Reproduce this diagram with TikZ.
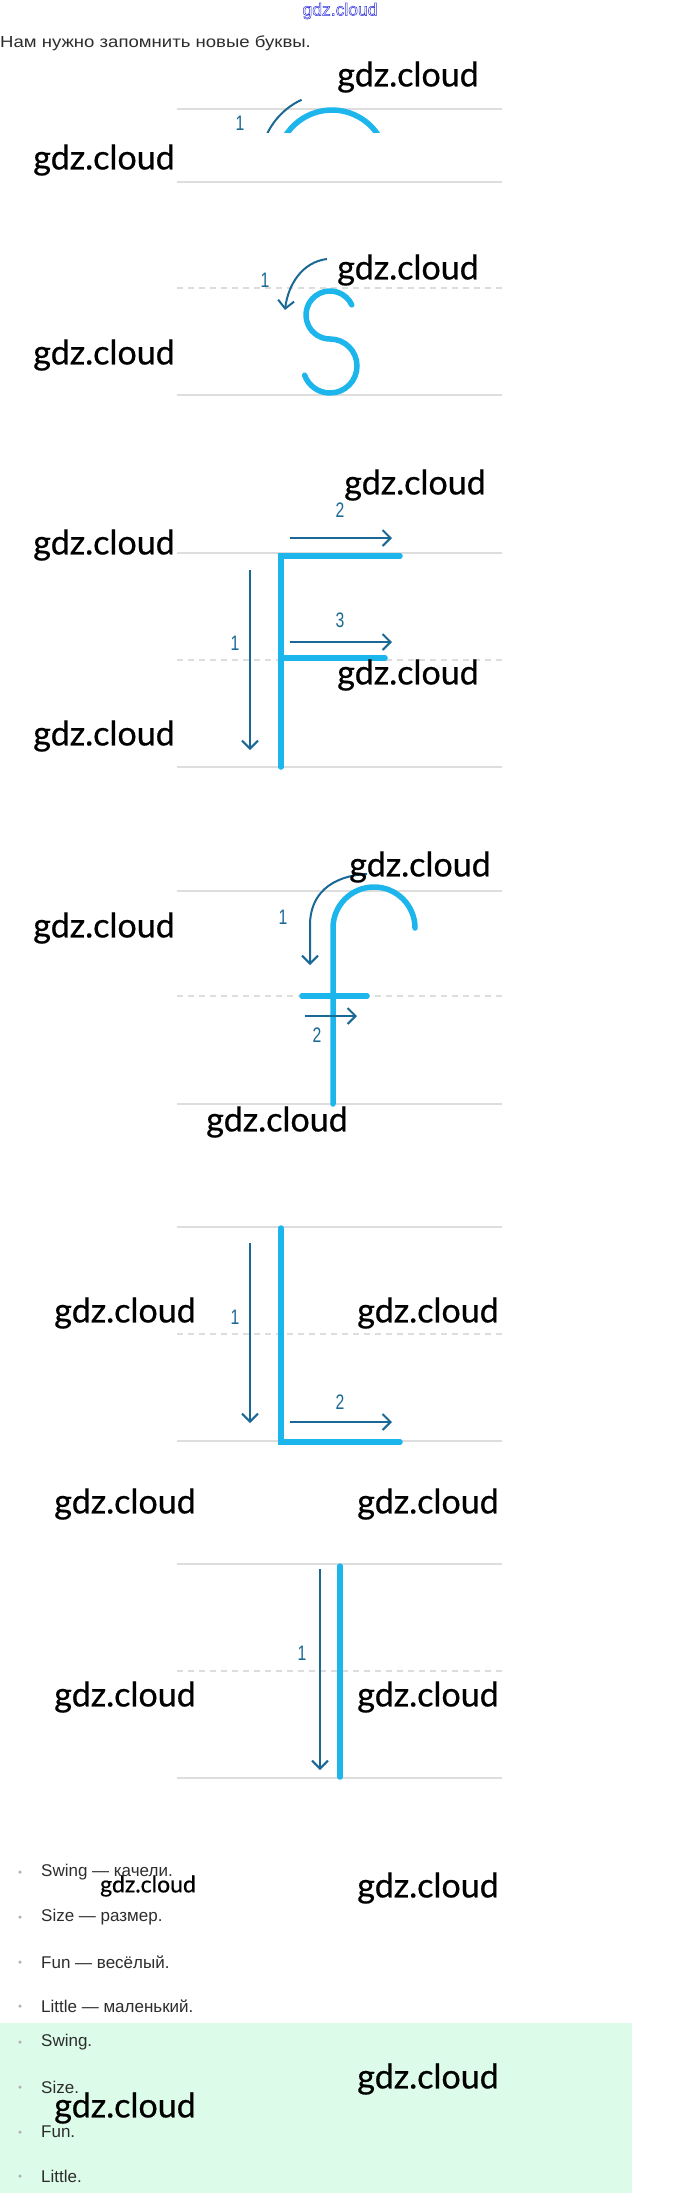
\documentclass[tikz,border=0pt]{standalone}
\usepackage{fontspec}
\usepackage{graphicx}
\usetikzlibrary{arrows.meta}
\newfontfamily\wmfont[FakeBold=0.6]{Lato}
\newfontfamily\uifont{Liberation Sans}
\definecolor{cyanL}{RGB}{28,181,236}
\definecolor{arrowB}{RGB}{26,104,150}
\definecolor{guideG}{RGB}{221,221,221}
\definecolor{mint}{RGB}{220,252,233}
\definecolor{textG}{RGB}{45,45,45}
\definecolor{wmBlue}{RGB}{50,50,220}
\begin{document}
\begin{tikzpicture}[x=1pt,y=1pt,
  guide/.style={draw=guideG,line width=1.8pt},
  guidedash/.style={guide,dash pattern=on 6pt off 5pt},
  letter/.style={draw=cyanL,line width=5.5pt,line cap=round,line join=miter},
  strokeline/.style={draw=arrowB,line width=2pt},
  strokearrow/.style={strokeline,-{Straight Barb[length=8pt,width=16pt]}},
  num/.style={inner sep=0,text=arrowB,font=\uifont\fontsize{21}{21}\selectfont},
  wm/.style={inner sep=0,text=black,font=\wmfont\fontsize{34}{34}\selectfont},
  wmsmall/.style={inner sep=0,text=black,font=\wmfont\fontsize{23}{23}\selectfont},
  item/.style={inner sep=0,anchor=west,text=textG,font=\uifont\fontsize{17}{20}\selectfont},
  bulletdot/.style={fill=gray!60,draw=none,circle,inner sep=0,minimum size=3.5pt}
]
\fill[white] (0,0) rectangle (680,-2193);
\useasboundingbox (0,0) rectangle (680,-2193);

% header
\node[inner sep=0,text=wmBlue,font=\uifont\fontsize{17.5}{18}\selectfont] (topwm) at (340,-11) {\special{pdf:literal direct 1 Tr 0.5 w}gdz.cloud\special{pdf:literal direct 0 Tr}};
\node[inner sep=0,anchor=west,text=textG,font=\uifont\fontsize{16}{18}\selectfont] (intro) at (0,-43) {\scalebox{1.16}[1]{Нам нужно запомнить новые буквы.}};

% ---------- block 1: C ----------
\draw[guide] (177,-109) -- (502,-109);
\draw[guide] (177,-182) -- (502,-182);
\begin{scope}
  \clip (150,-60) rectangle (520,-132.5);
  \draw[letter,line cap=butt] (332,-165) ++(150:55) arc[start angle=150,end angle=30,radius=55];
  \draw[strokeline] (332,-165) ++(158:72) arc[start angle=158,end angle=115,radius=72];
\end{scope}
\node[num] (c1) at (240,-123) {\scalebox{0.75}[1]{1}};

% ---------- block 2: S ----------
\draw[guidedash] (177,-288) -- (502,-288);
\draw[guide] (177,-395) -- (502,-395);
\draw[letter] (330,-315) ++(25:24) arc[start angle=25,end angle=270,radius=24] arc[start angle=90,end angle=-160,radius=27];
\coordinate (s1a) at (327,-259);
\coordinate (s1b) at (285,-310);
\draw[strokearrow] (s1a) .. controls (302,-262) and (288,-285) .. (s1b);
\node[num] (s1) at (265,-280) {\scalebox{0.75}[1]{1}};

% ---------- block 3: F ----------
\draw[guide] (177,-553) -- (502,-553);
\draw[guidedash] (177,-660) -- (502,-660);
\draw[guide] (177,-767) -- (502,-767);
\draw[letter] (281,-767) -- (281,-556) -- (400,-556);
\draw[letter] (281,-658) -- (385,-658);
\coordinate (f1a) at (250,-570); \coordinate (f1b) at (250,-750);
\coordinate (f2a) at (290,-538); \coordinate (f2b) at (392,-538);
\coordinate (f3a) at (290,-642); \coordinate (f3b) at (392,-642);
\draw[strokearrow] (f1a) -- (f1b);
\draw[strokearrow] (f2a) -- (f2b);
\draw[strokearrow] (f3a) -- (f3b);
\node[num] (fn1) at (235,-643) {\scalebox{0.75}[1]{1}};
\node[num] (fn2) at (340,-510) {\scalebox{0.75}[1]{2}};
\node[num] (fn3) at (340,-620) {\scalebox{0.75}[1]{3}};

% ---------- block 4: f ----------
\draw[guide] (177,-891) -- (502,-891);
\draw[guidedash] (177,-996) -- (502,-996);
\draw[guide] (177,-1104) -- (502,-1104);
\draw[letter] (333,-1104) -- (333,-928) arc[start angle=180,end angle=0,radius=41];
\draw[letter] (302,-996) -- (367,-996);
\coordinate (g1a) at (367,-874); \coordinate (g1b) at (310,-965);
\coordinate (g2a) at (305,-1016); \coordinate (g2b) at (357,-1016);
\draw[strokearrow] (g1a) .. controls (330,-876) and (310,-895) .. (310,-925) -- (g1b);
\draw[strokearrow] (g2a) -- (g2b);
\node[num] (gn1) at (283,-917) {\scalebox{0.75}[1]{1}};
\node[num] (gn2) at (317,-1035) {\scalebox{0.75}[1]{2}};

% ---------- block 5: L ----------
\draw[guide] (177,-1227) -- (502,-1227);
\draw[guidedash] (177,-1334) -- (502,-1334);
\draw[guide] (177,-1441) -- (502,-1441);
\draw[letter] (281,-1228) -- (281,-1442) -- (400,-1442);
\coordinate (l1a) at (250,-1243); \coordinate (l1b) at (250,-1423);
\coordinate (l2a) at (290,-1422); \coordinate (l2b) at (392,-1422);
\draw[strokearrow] (l1a) -- (l1b);
\draw[strokearrow] (l2a) -- (l2b);
\node[num] (ln1) at (235,-1317) {\scalebox{0.75}[1]{1}};
\node[num] (ln2) at (340,-1402) {\scalebox{0.75}[1]{2}};

% ---------- block 6: l ----------
\draw[guide] (177,-1564) -- (502,-1564);
\draw[guidedash] (177,-1671) -- (502,-1671);
\draw[guide] (177,-1778) -- (502,-1778);
\draw[letter] (340,-1566) -- (340,-1777);
\coordinate (m1a) at (320,-1569); \coordinate (m1b) at (320,-1770);
\draw[strokearrow] (m1a) -- (m1b);
\node[num] (mn1) at (302,-1653) {\scalebox{0.75}[1]{1}};

% ---------- list ----------
\fill[mint] (0,-2023) rectangle (632,-2193);
\foreach \yy/\txt/\nm in {1872/{Swing — качели.}/a,1917/{Size — размер.}/b,1962/{Fun — весёлый.}/c,2006/{Little — маленький.}/d,2042/{Swing.}/e,2087/{Size.}/f,2132/{Fun.}/g,2176/{Little.}/h}{
  \node[bulletdot] (b\nm) at (20,-\yy) {};
  \node[item] (t\nm) at (41,-\yy) {\txt};
}

% ---------- watermarks ----------
\node[wm] (w1) at (408,-77) {gdz.cloud};
\node[wm] (w2) at (104,-160) {gdz.cloud};
\node[wm] (w3) at (408,-270) {gdz.cloud};
\node[wm] (w4) at (104,-355) {gdz.cloud};
\node[wm] (w5) at (415,-485) {gdz.cloud};
\node[wm] (w6) at (104,-545) {gdz.cloud};
\node[wm] (w7) at (408,-675) {gdz.cloud};
\node[wm] (w8) at (104,-736) {gdz.cloud};
\node[wm] (w9) at (420,-867) {gdz.cloud};
\node[wm] (w10) at (104,-928) {gdz.cloud};
\node[wm] (w11) at (277,-1122) {gdz.cloud};
\node[wm] (w12) at (125,-1313) {gdz.cloud};
\node[wm] (w13) at (428,-1313) {gdz.cloud};
\node[wm] (w14) at (125,-1504) {gdz.cloud};
\node[wm] (w15) at (428,-1504) {gdz.cloud};
\node[wm] (w16) at (125,-1697) {gdz.cloud};
\node[wm] (w17) at (428,-1697) {gdz.cloud};
\node[wmsmall] (w18) at (148,-1886) {gdz.cloud};
\node[wm] (w19) at (428,-1888) {gdz.cloud};
\node[wm] (w20) at (428,-2079) {gdz.cloud};
\node[wm] (w21) at (125,-2108) {gdz.cloud};
\end{tikzpicture}
\end{document}
